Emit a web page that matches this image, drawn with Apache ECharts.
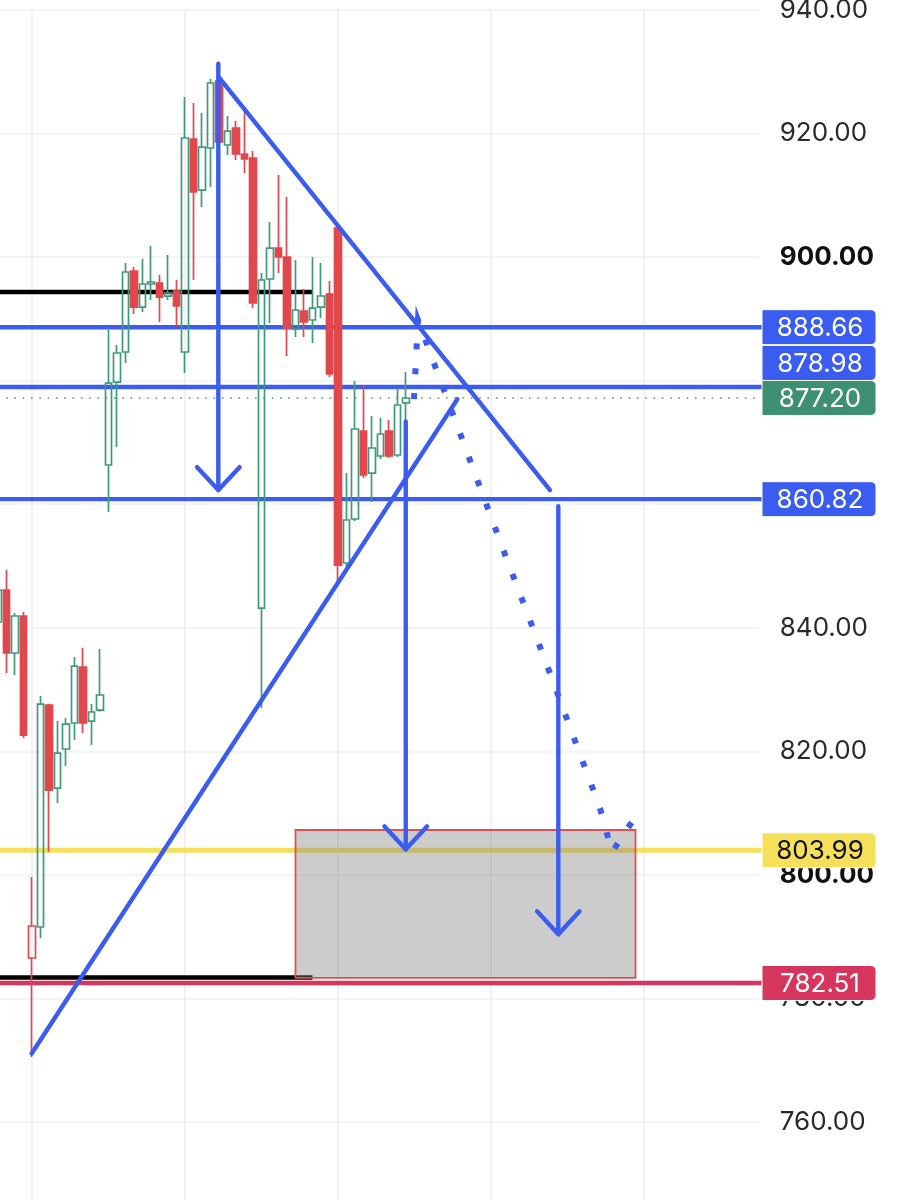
<!DOCTYPE html>
<html><head><meta charset="utf-8">
<script src="https://cdn.jsdelivr.net/npm/echarts/dist/echarts.min.js"></script>
<style>html,body{margin:0;padding:0;background:#fff}#c{width:909px;height:1200px}</style>
</head><body><div id="c"></div>
<script>
// ---------- data ----------
// candles: [open, close, low, high]
const candles = [
 [840.94, 846.12, 839.20, 847.60],
 [846.12, 835.92, 832.68, 849.35],
 [835.92, 841.91, 832.36, 842.39],
 [841.91, 822.64, 822.16, 842.55],
 [786.55, 791.73, 770.52, 799.66],
 [791.57, 827.66, 789.78, 828.96],
 [827.50, 813.74, 803.71, 827.70],
 [814.06, 819.73, 811.64, 824.91],
 [820.38, 824.42, 817.63, 825.40],
 [824.59, 833.81, 821.83, 835.27],
 [833.65, 824.59, 822.97, 836.73],
 [824.91, 826.37, 821.03, 827.66],
 [826.69, 829.12, 826.40, 836.57],
 [866.35, 879.62, 858.74, 888.69],
 [879.78, 884.48, 869.26, 885.77],
 [884.64, 897.59, 882.86, 899.05],
 [897.75, 891.92, 890.79, 898.40],
 [891.92, 895.65, 891.12, 899.69],
 [895.65, 895.97, 893.06, 901.80],
 [895.81, 893.54, 889.50, 897.10],
 [893.70, 894.19, 893.06, 900.34],
 [894.51, 892.09, 888.69, 896.30],
 [884.64, 919.28, 881.24, 925.92],
 [919.12, 910.54, 896.30, 924.95],
 [910.86, 917.82, 908.11, 923.33],
 [917.66, 928.18, 911.35, 928.83],
 [928.51, 918.63, 917.34, 930.50],
 [918.15, 920.41, 916.53, 922.84],
 [920.90, 916.69, 915.72, 922.03],
 [916.69, 915.88, 913.62, 923.81],
 [916.04, 892.57, 891.76, 917.18],
 [843.20, 896.30, 827.01, 897.43],
 [896.46, 901.47, 889.33, 905.68],
 [901.47, 900.02, 897.43, 913.29],
 [900.02, 888.53, 883.99, 909.73],
 [888.36, 891.44, 887.07, 899.53],
 [891.28, 889.50, 887.07, 894.84],
 [889.82, 891.76, 886.10, 900.02],
 [891.92, 893.71, 890.14, 899.05],
 [894.03, 881.08, 880.59, 896.13],
 [904.71, 850.16, 847.25, 905.00],
 [850.49, 857.45, 849.90, 865.05],
 [857.61, 872.18, 857.30, 879.95],
 [871.85, 864.73, 864.25, 879.14],
 [865.05, 869.10, 860.36, 874.28],
 [867.81, 871.37, 867.32, 873.96],
 [871.85, 867.81, 867.48, 873.63],
 [867.97, 876.06, 867.64, 878.81],
 [876.40, 877.20, 873.60, 881.40]
];
const slotCount = 90;                       // candle slots incl. empty future
const yMin = 740, yMax = 940, yStep = 20;
const timeGridIdx = [4, 22, 40, 58, 76];    // vertical grid lines (bar index)
const blueLevels = [888.66, 878.98, 860.82];
const lastPrice = 877.20;
const targetLevel = 803.99;
const supportLevel = 782.51;
const blackLevels = [894.35, 783.40];
const blackLevelEnd = 37;
const trendDown = [[25.92, 929.2], [64.94, 862.3]];
const trendUp = [[3.96, 771.1], [54.04, 877.0]];
const arrows = [[25.92, 931.3, 862.3], [47.97, 873.4, 804.15], [65.92, 859.7, 790.4]]; // [index, from, to]
const targetBox = [35, 807.27, 75, 783.32];
const forecastPath = [[48.94, 877.0], [49.41, 889.8], [59.53, 852.3], [64.71, 833.5], [70.82, 810.8], [72.24, 803.7], [74.59, 808.6]];

// ---------- style ----------
const GREEN = '#3f9a7c', RED = '#e2474d', BLUE = '#3a5cf0', YELLOW = '#f6e05a',
      CRIMSON = '#d6365d', LASTGREEN = '#3e9073', BLACK = '#000000';
const FONT = 'Inter, "Liberation Sans", sans-serif';
const FS = 26;
const categories = Array.from({length: slotCount}, (_, i) => String(i));
const X0 = -1, X1 = 89.88; // extent of full-width level lines (index units)
const ARM_DX = 2.5, ARM_DY = 3.7;
const LW = 4.4;

const chart = echarts.init(document.getElementById('c'), null, {renderer: 'canvas'});

const candleData = candles.map((d, k) => {
  const up = d[1] > d[0];
  const prevClose = k > 0 ? candles[k - 1][1] : d[0];
  const col = d[1] >= prevClose ? GREEN : RED;
  const fill = up ? 'rgba(0,0,0,0)' : col;
  return {value: d, itemStyle: {color: fill, color0: fill, borderColor: col, borderColor0: col}};
});

function hline(v, color, width, type, z) {
  return {type: 'line', xAxisIndex: 1, yAxisIndex: 0, data: [[X0, v], [X1, v]], clip: false,
    symbol: 'none', silent: true, z: z, lineStyle: {color: color, width: width, type: type || 'solid', cap: 'butt'}};
}
function pline(pts, color, width, z, extra) {
  return Object.assign({type: 'line', xAxisIndex: 1, yAxisIndex: 0, data: pts, symbol: 'none',
    silent: true, z: z, lineStyle: {color: color, width: width, cap: 'round', join: 'round'}}, extra || {});
}

const series = [];
// vertical grid lines
series.push({type: 'line', xAxisIndex: 1, yAxisIndex: 0, data: [], z: 0, silent: true,
  markLine: {silent: true, z: 0, symbol: 'none', label: {show: false}, animation: false,
    lineStyle: {color: '#ececec', width: 1.5, type: 'solid'},
    data: timeGridIdx.map(i => ({xAxis: i}))}});
// horizontal levels
blueLevels.forEach(v => series.push(hline(v, BLUE, LW, 'solid', 1)));
series.push(hline(lastPrice, '#4a9c80', 1.6, [1.6, 6.7], 1));
series.push(hline(targetLevel, YELLOW, 5, 'solid', 1));
series.push(hline(supportLevel, CRIMSON, 4.4, 'solid', 1));
blackLevels.forEach(v => series.push(pline([[X0, v], [blackLevelEnd, v]], BLACK, 4.4, 1, {clip: false, lineStyle: {color: BLACK, width: 4.4, cap: 'butt'}})));
// target box
series.push({type: 'custom', xAxisIndex: 1, yAxisIndex: 0, z: 2, silent: true,
  data: [targetBox], encode: {x: [0, 2], y: [1, 3]},
  renderItem: (params, api) => {
    const a = api.coord([api.value(0), api.value(1)]);
    const b = api.coord([api.value(2), api.value(3)]);
    return {type: 'rect', shape: {x: a[0], y: a[1], width: b[0] - a[0], height: b[1] - a[1]},
      style: {fill: 'rgba(128,128,128,0.4)', stroke: '#e05050', lineWidth: 1.8}};
  }});
// candles
series.push({type: 'candlestick', xAxisIndex: 0, yAxisIndex: 0, z: 3, barWidth: 7, silent: true,
  itemStyle: {borderWidth: 1.7}, data: candleData});
// trend lines
series.push(pline(trendDown, BLUE, LW, 4));
series.push(pline(trendUp, BLUE, LW, 4));
// arrows
arrows.forEach(a => {
  series.push(pline([[a[0], a[1]], [a[0], a[2]]], BLUE, LW, 4));
  series.push(pline([[a[0] - ARM_DX, a[2] + ARM_DY], [a[0], a[2]], [a[0] + ARM_DX, a[2] + ARM_DY]], BLUE, LW, 4));
});
// forecast dotted path
series.push(pline(forecastPath, BLUE, 6, 4, {lineStyle: {color: BLUE, width: 6, type: [6, 19], cap: 'butt', join: 'miter'}}));

chart.setOption({
  animation: false,
  backgroundColor: '#ffffff',
  grid: {left: -6.25, width: 765, top: 10, height: 1235.6, outerBoundsMode: 'none', containLabel: false},
  xAxis: [
    {type: 'category', data: categories, show: false, boundaryGap: true},
    {type: 'value', min: -0.5, max: slotCount - 0.5, show: false}
  ],
  yAxis: {type: 'value', position: 'right', min: yMin, max: yMax, interval: yStep, scale: true,
    axisLine: {show: false}, axisTick: {show: false},
    splitLine: {show: true, lineStyle: {color: '#f0f0f0', width: 1.5}},
    axisLabel: {margin: 21, showMinLabel: false,
      formatter: v => (v % 100 === 0 ? '{b|' : '{n|') + v.toFixed(2) + '}',
      rich: {b: {fontFamily: FONT, fontSize: FS, fontWeight: 'bold', color: '#111111'},
             n: {fontFamily: FONT, fontSize: FS, color: '#2a2a2a'}}}},
  series: series
});

// price tags on the right
const tags = [
  {v: 888.66, bg: BLUE, fg: '#ffffff'},
  {v: 878.98, bg: BLUE, fg: '#ffffff'},
  {v: lastPrice, bg: LASTGREEN, fg: '#ffffff'},
  {v: 860.82, bg: BLUE, fg: '#ffffff'},
  {v: targetLevel, bg: YELLOW, fg: '#111111'},
  {v: supportLevel, bg: CRIMSON, fg: '#ffffff'}
];
const TAG_H = 35, TAG_W = 114, TAG_X = 762;
tags.forEach(t => { t.y = chart.convertToPixel({yAxisIndex: 0}, t.v); });
const sorted = tags.slice().sort((a, b) => b.y - a.y);
let prevTop = Infinity;
sorted.forEach(t => {
  if (t.y + TAG_H / 2 > prevTop) t.y = prevTop - TAG_H / 2;
  prevTop = t.y - TAG_H / 2;
});
const graphics = [];
tags.forEach(t => {
  graphics.push({type: 'rect', z: 100, shape: {x: TAG_X, y: t.y - TAG_H / 2, width: TAG_W, height: TAG_H, r: [0, 5, 5, 0]},
    style: {fill: t.bg, stroke: '#ffffff', lineWidth: 1}});
  graphics.push({type: 'text', z: 101, style: {text: t.v.toFixed(2), x: TAG_X + TAG_W / 2 + 1, y: t.y + 1,
    fill: t.fg, font: FS + 'px ' + FONT, align: 'center', verticalAlign: 'middle'}});
});
chart.setOption({graphic: graphics});
</script></body></html>
